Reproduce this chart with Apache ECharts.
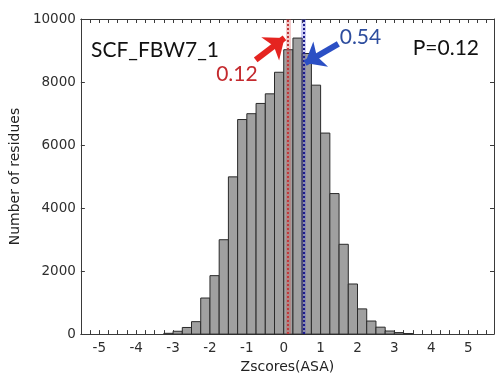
<!DOCTYPE html>
<html>
<head>
<meta charset="utf-8">
<script src="https://cdn.jsdelivr.net/npm/echarts@6/dist/echarts.min.js"></script>
<style>
  html, body { margin: 0; padding: 0; background: #ffffff; }
  #chart { width: 495px; height: 379px; }
</style>
</head>
<body>
<div id="chart"></div>
<script>
// Histogram of residue Z-scores (ASA), bins of width 0.25
const binStarts = [-3.25, -3.0, -2.75, -2.5, -2.25, -2.0, -1.75, -1.5, -1.25, -1.0, -0.75, -0.5, -0.25,
                   0.0, 0.25, 0.5, 0.75, 1.0, 1.25, 1.5, 1.75, 2.0, 2.25, 2.5, 2.75, 3.0, 3.25];
const binWidth = 0.25;
const counts = [25, 90, 210, 395, 1145, 1855, 2995, 4990, 6810, 6995, 7320, 7625, 8310,
                9025, 9395, 8905, 7900, 6380, 4460, 2850, 1590, 800, 415, 220, 98, 48, 18];

// x tick labels and tick marks
const xTickLabels = [-5, -4, -3, -2, -1, 0, 1, 2, 3, 4, 5];
const xTickMarks = [];
for (let k = -22; k <= 22; k++) xTickMarks.push(k * 0.25);

// reference values and annotations
const redValue = 0.12;
const blueValue = 0.54;
const redArrow = [[-0.76, 8700], [0.02, 9400]];
const blueArrow = [[1.48, 9210], [0.58, 8600]];
const redLabelAt = [-1.27, 8260];
const blueLabelAt = [2.08, 9420];

const chart = echarts.init(document.getElementById('chart'), null, { renderer: 'canvas' });

const axisColor = '#3a3a3a';
const tickFont = { fontFamily: 'DejaVu Sans', fontSize: 13.5, color: '#2e2e2e' };

const histData = binStarts.map((s, i) => [s, s + binWidth, counts[i]]);

chart.setOption({
  animation: false,
  backgroundColor: '#ffffff',
  grid: { left: 77, right: 1, top: 19, bottom: 33 },
  title: [
    { text: 'SCF_FBW7_1', left: 86, top: 35,
      textStyle: { fontFamily: 'Lato', fontSize: 21, fontWeight: 'normal', color: '#111' } },
    { text: 'P=0.12', right: 11, top: 33,
      textStyle: { fontFamily: 'Lato', fontSize: 21, fontWeight: 'normal', color: '#111' } }
  ],
  xAxis: [
    {
      type: 'value', position: 'bottom', min: -5.5, max: 5.7,
      name: 'Zscores(ASA)', nameLocation: 'middle', nameGap: 24,
      nameTextStyle: { fontFamily: 'DejaVu Sans', fontSize: 14, color: '#222' },
      axisLine: { show: true, onZero: false, lineStyle: { color: axisColor, width: 1 } },
      axisTick: { show: true, inside: true, length: 4, customValues: xTickMarks,
                  lineStyle: { color: axisColor } },
      axisLabel: { customValues: xTickLabels, margin: 7, ...tickFont },
      splitLine: { show: false }
    },
    {
      type: 'value', position: 'top', min: -5.5, max: 5.7,
      axisLine: { show: true, onZero: false, lineStyle: { color: axisColor, width: 1 } },
      axisTick: { show: true, inside: true, length: 4, customValues: xTickMarks,
                  lineStyle: { color: axisColor } },
      axisLabel: { show: false },
      splitLine: { show: false }
    }
  ],
  yAxis: [
    {
      type: 'value', position: 'left', min: 0, max: 10000, interval: 2000,
      name: 'Number of residues', nameLocation: 'middle', nameGap: 49,
      nameTextStyle: { fontFamily: 'DejaVu Sans', fontSize: 14, color: '#222' },
      axisLine: { show: true, onZero: false, lineStyle: { color: axisColor, width: 1 } },
      axisTick: { show: true, inside: true, length: 4, lineStyle: { color: axisColor } },
      axisLabel: { margin: 5, formatter: v => String(v), ...tickFont },
      splitLine: { show: false }
    },
    {
      type: 'value', position: 'right', min: 0, max: 10000, interval: 2000,
      axisLine: { show: true, onZero: false, lineStyle: { color: axisColor, width: 1 } },
      axisTick: { show: true, inside: true, length: 4, lineStyle: { color: axisColor } },
      axisLabel: { show: false },
      splitLine: { show: false }
    }
  ],
  series: [
    {
      type: 'custom',
      xAxisIndex: 0, yAxisIndex: 0,
      data: histData,
      encode: { x: [0, 1], y: 2 },
      renderItem: function (params, api) {
        const p0 = api.coord([api.value(0), api.value(2)]);
        const p1 = api.coord([api.value(1), 0]);
        return {
          type: 'rect',
          shape: { x: p0[0], y: p0[1], width: p1[0] - p0[0], height: p1[1] - p0[1] },
          style: { fill: '#a0a0a0', stroke: '#2a2a2a', lineWidth: 1 }
        };
      },
      z: 2
    },
    {
      // vertical reference lines: soft band underneath a dotted line
      type: 'line', data: [], xAxisIndex: 0, yAxisIndex: 0, z: 3,
      markLine: {
        silent: true, symbol: 'none', label: { show: false },
        data: [
          { xAxis: redValue, lineStyle: { color: 'rgba(215,70,70,0.28)', width: 5, type: 'solid' } },
          { xAxis: redValue, lineStyle: { color: '#c0393b', width: 2, type: [2, 2] } },
          { xAxis: blueValue, lineStyle: { color: 'rgba(80,80,210,0.28)', width: 5, type: 'solid' } },
          { xAxis: blueValue, lineStyle: { color: '#1c1c8e', width: 2, type: [2, 2] } }
        ]
      }
    },
    {
      // arrows pointing at the reference lines
      type: 'line', data: [], xAxisIndex: 0, yAxisIndex: 0, z: 4,
      markLine: {
        silent: true, symbol: ['none', 'arrow'], symbolSize: [22, 18], label: { show: false },
        data: [
          [{ coord: redArrow[0], lineStyle: { color: '#e52420', width: 6, type: 'solid' } },
           { coord: redArrow[1] }],
          [{ coord: blueArrow[0], lineStyle: { color: '#2b4fc4', width: 6, type: 'solid' } },
           { coord: blueArrow[1] }]
        ]
      }
    },
    {
      // value labels next to the arrows
      type: 'scatter', data: [], xAxisIndex: 0, yAxisIndex: 0, z: 5,
      markPoint: {
        silent: true, symbol: 'circle', symbolSize: 0,
        data: [
          { coord: redLabelAt, label: { show: true, position: 'inside', formatter: String(redValue),
              fontFamily: 'Lato', fontSize: 21, color: '#c42a2e' } },
          { coord: blueLabelAt, label: { show: true, position: 'inside', formatter: String(blueValue),
              fontFamily: 'Lato', fontSize: 21, color: '#2d4d9e' } }
        ]
      }
    }
  ]
});
</script>
</body>
</html>
